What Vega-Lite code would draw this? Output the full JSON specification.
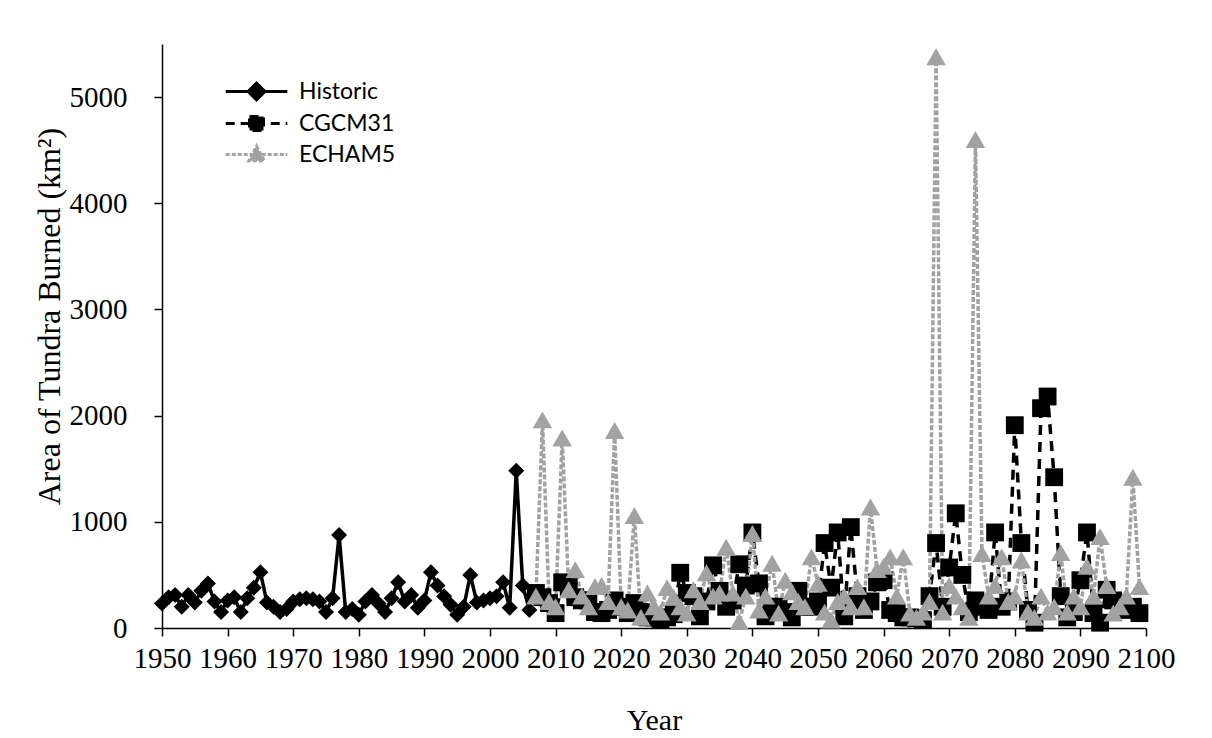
{
  "$schema": "https://vega.github.io/schema/vega-lite/v6.json",
  "width": 984,
  "height": 584,
  "autosize": "none",
  "padding": {"left": 162, "top": 44, "right": 66, "bottom": 110},
  "background": "white",
  "config": {
    "view": {"stroke": null},
    "axis": {"grid": false, "domainColor": "black", "tickColor": "black", "labelColor": "black", "titleColor": "black", "labelFont": "Liberation Serif", "titleFont": "Liberation Serif", "titleFontWeight": "normal"},
    "legend": {"labelFont": "Lato", "labelFontSize": 23, "labelColor": "black", "labelLimit": 300}
  },
  "data": {"values": [
    {"year":1950,"value":230,"series":"Historic"},{"year":1951,"value":290,"series":"Historic"},{"year":1952,"value":310,"series":"Historic"},{"year":1953,"value":200,"series":"Historic"},{"year":1954,"value":310,"series":"Historic"},{"year":1955,"value":240,"series":"Historic"},{"year":1956,"value":350,"series":"Historic"},{"year":1957,"value":420,"series":"Historic"},{"year":1958,"value":250,"series":"Historic"},{"year":1959,"value":150,"series":"Historic"},{"year":1960,"value":260,"series":"Historic"},{"year":1961,"value":290,"series":"Historic"},{"year":1962,"value":150,"series":"Historic"},{"year":1963,"value":280,"series":"Historic"},{"year":1964,"value":380,"series":"Historic"},{"year":1965,"value":525,"series":"Historic"},{"year":1966,"value":240,"series":"Historic"},{"year":1967,"value":200,"series":"Historic"},{"year":1968,"value":150,"series":"Historic"},{"year":1969,"value":180,"series":"Historic"},{"year":1970,"value":250,"series":"Historic"},{"year":1971,"value":270,"series":"Historic"},{"year":1972,"value":280,"series":"Historic"},{"year":1973,"value":270,"series":"Historic"},{"year":1974,"value":250,"series":"Historic"},{"year":1975,"value":150,"series":"Historic"},{"year":1976,"value":280,"series":"Historic"},{"year":1977,"value":875,"series":"Historic"},{"year":1978,"value":150,"series":"Historic"},{"year":1979,"value":180,"series":"Historic"},{"year":1980,"value":125,"series":"Historic"},{"year":1981,"value":250,"series":"Historic"},{"year":1982,"value":310,"series":"Historic"},{"year":1983,"value":230,"series":"Historic"},{"year":1984,"value":150,"series":"Historic"},{"year":1985,"value":280,"series":"Historic"},{"year":1986,"value":430,"series":"Historic"},{"year":1987,"value":250,"series":"Historic"},{"year":1988,"value":310,"series":"Historic"},{"year":1989,"value":190,"series":"Historic"},{"year":1990,"value":260,"series":"Historic"},{"year":1991,"value":525,"series":"Historic"},{"year":1992,"value":400,"series":"Historic"},{"year":1993,"value":300,"series":"Historic"},{"year":1994,"value":220,"series":"Historic"},{"year":1995,"value":125,"series":"Historic"},{"year":1996,"value":200,"series":"Historic"},{"year":1997,"value":500,"series":"Historic"},{"year":1998,"value":240,"series":"Historic"},{"year":1999,"value":260,"series":"Historic"},{"year":2000,"value":280,"series":"Historic"},{"year":2001,"value":300,"series":"Historic"},{"year":2002,"value":430,"series":"Historic"},{"year":2003,"value":190,"series":"Historic"},{"year":2004,"value":1480,"series":"Historic"},{"year":2005,"value":400,"series":"Historic"},{"year":2006,"value":170,"series":"Historic"},
    {"year":2007,"value":330,"series":"CGCM31"},{"year":2008,"value":290,"series":"CGCM31"},{"year":2009,"value":235,"series":"CGCM31"},{"year":2010,"value":140,"series":"CGCM31"},{"year":2011,"value":430,"series":"CGCM31"},{"year":2012,"value":385,"series":"CGCM31"},{"year":2013,"value":290,"series":"CGCM31"},{"year":2014,"value":260,"series":"CGCM31"},{"year":2015,"value":260,"series":"CGCM31"},{"year":2016,"value":150,"series":"CGCM31"},{"year":2017,"value":140,"series":"CGCM31"},{"year":2018,"value":170,"series":"CGCM31"},{"year":2019,"value":260,"series":"CGCM31"},{"year":2020,"value":200,"series":"CGCM31"},{"year":2021,"value":140,"series":"CGCM31"},{"year":2022,"value":235,"series":"CGCM31"},{"year":2023,"value":150,"series":"CGCM31"},{"year":2024,"value":100,"series":"CGCM31"},{"year":2025,"value":100,"series":"CGCM31"},{"year":2026,"value":75,"series":"CGCM31"},{"year":2027,"value":100,"series":"CGCM31"},{"year":2028,"value":130,"series":"CGCM31"},{"year":2029,"value":520,"series":"CGCM31"},{"year":2030,"value":330,"series":"CGCM31"},{"year":2031,"value":300,"series":"CGCM31"},{"year":2032,"value":110,"series":"CGCM31"},{"year":2033,"value":250,"series":"CGCM31"},{"year":2034,"value":590,"series":"CGCM31"},{"year":2035,"value":350,"series":"CGCM31"},{"year":2036,"value":200,"series":"CGCM31"},{"year":2037,"value":260,"series":"CGCM31"},{"year":2038,"value":600,"series":"CGCM31"},{"year":2039,"value":400,"series":"CGCM31"},{"year":2040,"value":900,"series":"CGCM31"},{"year":2041,"value":420,"series":"CGCM31"},{"year":2042,"value":110,"series":"CGCM31"},{"year":2043,"value":200,"series":"CGCM31"},{"year":2044,"value":200,"series":"CGCM31"},{"year":2045,"value":150,"series":"CGCM31"},{"year":2046,"value":100,"series":"CGCM31"},{"year":2047,"value":350,"series":"CGCM31"},{"year":2048,"value":200,"series":"CGCM31"},{"year":2049,"value":200,"series":"CGCM31"},{"year":2050,"value":250,"series":"CGCM31"},{"year":2051,"value":800,"series":"CGCM31"},{"year":2052,"value":380,"series":"CGCM31"},{"year":2053,"value":900,"series":"CGCM31"},{"year":2054,"value":110,"series":"CGCM31"},{"year":2055,"value":950,"series":"CGCM31"},{"year":2056,"value":300,"series":"CGCM31"},{"year":2057,"value":170,"series":"CGCM31"},{"year":2058,"value":250,"series":"CGCM31"},{"year":2059,"value":430,"series":"CGCM31"},{"year":2060,"value":450,"series":"CGCM31"},{"year":2061,"value":170,"series":"CGCM31"},{"year":2062,"value":140,"series":"CGCM31"},{"year":2063,"value":100,"series":"CGCM31"},{"year":2064,"value":100,"series":"CGCM31"},{"year":2065,"value":90,"series":"CGCM31"},{"year":2066,"value":75,"series":"CGCM31"},{"year":2067,"value":300,"series":"CGCM31"},{"year":2068,"value":800,"series":"CGCM31"},{"year":2069,"value":200,"series":"CGCM31"},{"year":2070,"value":570,"series":"CGCM31"},{"year":2071,"value":1080,"series":"CGCM31"},{"year":2072,"value":500,"series":"CGCM31"},{"year":2073,"value":150,"series":"CGCM31"},{"year":2074,"value":260,"series":"CGCM31"},{"year":2075,"value":200,"series":"CGCM31"},{"year":2076,"value":170,"series":"CGCM31"},{"year":2077,"value":900,"series":"CGCM31"},{"year":2078,"value":200,"series":"CGCM31"},{"year":2079,"value":250,"series":"CGCM31"},{"year":2080,"value":1910,"series":"CGCM31"},{"year":2081,"value":800,"series":"CGCM31"},{"year":2082,"value":170,"series":"CGCM31"},{"year":2083,"value":50,"series":"CGCM31"},{"year":2084,"value":2070,"series":"CGCM31"},{"year":2085,"value":2180,"series":"CGCM31"},{"year":2086,"value":1420,"series":"CGCM31"},{"year":2087,"value":300,"series":"CGCM31"},{"year":2088,"value":100,"series":"CGCM31"},{"year":2089,"value":150,"series":"CGCM31"},{"year":2090,"value":450,"series":"CGCM31"},{"year":2091,"value":900,"series":"CGCM31"},{"year":2092,"value":140,"series":"CGCM31"},{"year":2093,"value":50,"series":"CGCM31"},{"year":2094,"value":360,"series":"CGCM31"},{"year":2095,"value":260,"series":"CGCM31"},{"year":2096,"value":200,"series":"CGCM31"},{"year":2097,"value":170,"series":"CGCM31"},{"year":2098,"value":200,"series":"CGCM31"},{"year":2099,"value":140,"series":"CGCM31"},
    {"year":2007,"value":300,"series":"ECHAM5"},{"year":2008,"value":1960,"series":"ECHAM5"},{"year":2009,"value":250,"series":"ECHAM5"},{"year":2010,"value":200,"series":"ECHAM5"},{"year":2011,"value":1790,"series":"ECHAM5"},{"year":2012,"value":360,"series":"ECHAM5"},{"year":2013,"value":550,"series":"ECHAM5"},{"year":2014,"value":300,"series":"ECHAM5"},{"year":2015,"value":200,"series":"ECHAM5"},{"year":2016,"value":390,"series":"ECHAM5"},{"year":2017,"value":400,"series":"ECHAM5"},{"year":2018,"value":250,"series":"ECHAM5"},{"year":2019,"value":1860,"series":"ECHAM5"},{"year":2020,"value":200,"series":"ECHAM5"},{"year":2021,"value":170,"series":"ECHAM5"},{"year":2022,"value":1060,"series":"ECHAM5"},{"year":2023,"value":100,"series":"ECHAM5"},{"year":2024,"value":330,"series":"ECHAM5"},{"year":2025,"value":200,"series":"ECHAM5"},{"year":2026,"value":150,"series":"ECHAM5"},{"year":2027,"value":380,"series":"ECHAM5"},{"year":2028,"value":290,"series":"ECHAM5"},{"year":2029,"value":200,"series":"ECHAM5"},{"year":2030,"value":140,"series":"ECHAM5"},{"year":2031,"value":360,"series":"ECHAM5"},{"year":2032,"value":250,"series":"ECHAM5"},{"year":2033,"value":520,"series":"ECHAM5"},{"year":2034,"value":300,"series":"ECHAM5"},{"year":2035,"value":330,"series":"ECHAM5"},{"year":2036,"value":760,"series":"ECHAM5"},{"year":2037,"value":330,"series":"ECHAM5"},{"year":2038,"value":60,"series":"ECHAM5"},{"year":2039,"value":300,"series":"ECHAM5"},{"year":2040,"value":890,"series":"ECHAM5"},{"year":2041,"value":170,"series":"ECHAM5"},{"year":2042,"value":300,"series":"ECHAM5"},{"year":2043,"value":610,"series":"ECHAM5"},{"year":2044,"value":140,"series":"ECHAM5"},{"year":2045,"value":450,"series":"ECHAM5"},{"year":2046,"value":340,"series":"ECHAM5"},{"year":2047,"value":250,"series":"ECHAM5"},{"year":2048,"value":200,"series":"ECHAM5"},{"year":2049,"value":670,"series":"ECHAM5"},{"year":2050,"value":420,"series":"ECHAM5"},{"year":2051,"value":150,"series":"ECHAM5"},{"year":2052,"value":75,"series":"ECHAM5"},{"year":2053,"value":250,"series":"ECHAM5"},{"year":2054,"value":300,"series":"ECHAM5"},{"year":2055,"value":200,"series":"ECHAM5"},{"year":2056,"value":390,"series":"ECHAM5"},{"year":2057,"value":200,"series":"ECHAM5"},{"year":2058,"value":1140,"series":"ECHAM5"},{"year":2059,"value":550,"series":"ECHAM5"},{"year":2060,"value":580,"series":"ECHAM5"},{"year":2061,"value":670,"series":"ECHAM5"},{"year":2062,"value":300,"series":"ECHAM5"},{"year":2063,"value":670,"series":"ECHAM5"},{"year":2064,"value":140,"series":"ECHAM5"},{"year":2065,"value":100,"series":"ECHAM5"},{"year":2066,"value":150,"series":"ECHAM5"},{"year":2067,"value":250,"series":"ECHAM5"},{"year":2068,"value":5380,"series":"ECHAM5"},{"year":2069,"value":150,"series":"ECHAM5"},{"year":2070,"value":400,"series":"ECHAM5"},{"year":2071,"value":300,"series":"ECHAM5"},{"year":2072,"value":200,"series":"ECHAM5"},{"year":2073,"value":100,"series":"ECHAM5"},{"year":2074,"value":4600,"series":"ECHAM5"},{"year":2075,"value":700,"series":"ECHAM5"},{"year":2076,"value":300,"series":"ECHAM5"},{"year":2077,"value":400,"series":"ECHAM5"},{"year":2078,"value":670,"series":"ECHAM5"},{"year":2079,"value":250,"series":"ECHAM5"},{"year":2080,"value":300,"series":"ECHAM5"},{"year":2081,"value":640,"series":"ECHAM5"},{"year":2082,"value":150,"series":"ECHAM5"},{"year":2083,"value":100,"series":"ECHAM5"},{"year":2084,"value":300,"series":"ECHAM5"},{"year":2085,"value":150,"series":"ECHAM5"},{"year":2086,"value":200,"series":"ECHAM5"},{"year":2087,"value":710,"series":"ECHAM5"},{"year":2088,"value":150,"series":"ECHAM5"},{"year":2089,"value":300,"series":"ECHAM5"},{"year":2090,"value":200,"series":"ECHAM5"},{"year":2091,"value":580,"series":"ECHAM5"},{"year":2092,"value":300,"series":"ECHAM5"},{"year":2093,"value":860,"series":"ECHAM5"},{"year":2094,"value":400,"series":"ECHAM5"},{"year":2095,"value":140,"series":"ECHAM5"},{"year":2096,"value":200,"series":"ECHAM5"},{"year":2097,"value":300,"series":"ECHAM5"},{"year":2098,"value":1420,"series":"ECHAM5"},{"year":2099,"value":390,"series":"ECHAM5"}
  ]},
  "encoding": {
    "x": {"field": "year", "type": "quantitative", "scale": {"domain": [1950, 2100], "nice": false, "zero": false},
      "axis": {"values": [1950,1960,1970,1980,1990,2000,2010,2020,2030,2040,2050,2060,2070,2080,2090,2100], "format": "d", "labelFontSize": 29, "labelOverlap": false, "labelFlush": false, "tickSize": 8, "domainWidth": 1.5, "tickWidth": 1.5, "labelPadding": 8, "title": "Year", "titleFontSize": 30, "titlePadding": 32}},
    "y": {"field": "value", "type": "quantitative", "scale": {"domain": [0, 5500], "nice": false},
      "axis": {"values": [0,1000,2000,3000,4000,5000], "format": "d", "labelFontSize": 29, "tickSize": 8, "domainWidth": 1.5, "tickWidth": 1.5, "labelPadding": 27, "title": "Area of Tundra Burned (km²)", "titleFontSize": 32, "titlePadding": 3, "titleY": 272}}
  },
  "layer": [
    {
      "mark": {"type": "line", "strokeWidth": 3.5},
      "encoding": {
        "color": {"field": "series", "type": "nominal", "scale": {"domain": ["Historic", "CGCM31", "ECHAM5"], "range": ["#000000", "#000000", "#a2a2a2"]},
          "legend": {"orient": "none", "legendX": 79, "legendY": 32, "title": null, "symbolType": "M-2.2,0H2.2", "symbolSize": 784, "symbolStrokeWidth": 3, "labelFont": "Lato", "labelFontSize": 23, "labelColor": "black", "labelOffset": 27, "rowPadding": 2, "padding": 0,
            "encode": {"symbols": {"update": {
              "shape": {"signal": "datum.value === 'Historic' ? 'M-2.2,0H2.2M0,-0.6L0.6,0L0,0.6L-0.6,0Z' : datum.value === 'CGCM31' ? 'M-2.2,0H2.2M-0.5,-0.5H0.5V0.5H-0.5Z' : 'M-2.2,0H2.2M0,-0.6L0.55,0.45H-0.55Z'"},
              "fill": {"signal": "datum.value === 'ECHAM5' ? '#a2a2a2' : '#000000'"},
              "stroke": {"signal": "datum.value === 'ECHAM5' ? '#a2a2a2' : '#000000'"},
              "strokeDash": {"signal": "datum.value === 'CGCM31' ? [9, 6] : datum.value === 'ECHAM5' ? [4, 2] : [1, 0]"},
              "fillOpacity": {"value": 1}
            }}}}},
        "strokeDash": {"field": "series", "type": "nominal", "scale": {"domain": ["Historic", "CGCM31", "ECHAM5"], "range": [[1, 0], [10, 7], [5, 2]]}}
      }
    },
    {
      "mark": {"type": "point", "filled": true, "opacity": 1},
      "encoding": {
        "color": {"field": "series", "type": "nominal", "scale": {"domain": ["Historic", "CGCM31", "ECHAM5"], "range": ["#000000", "#000000", "#a2a2a2"]}, "legend": null},
        "shape": {"field": "series", "type": "nominal", "scale": {"domain": ["Historic", "CGCM31", "ECHAM5"], "range": ["diamond", "square", "triangle-up"]}, "legend": null},
        "size": {"field": "series", "type": "nominal", "scale": {"domain": ["Historic", "CGCM31", "ECHAM5"], "range": [256, 380, 220]}, "legend": null}
      }
    }
  ],
  "resolve": {"legend": {"color": "independent"}}
}
